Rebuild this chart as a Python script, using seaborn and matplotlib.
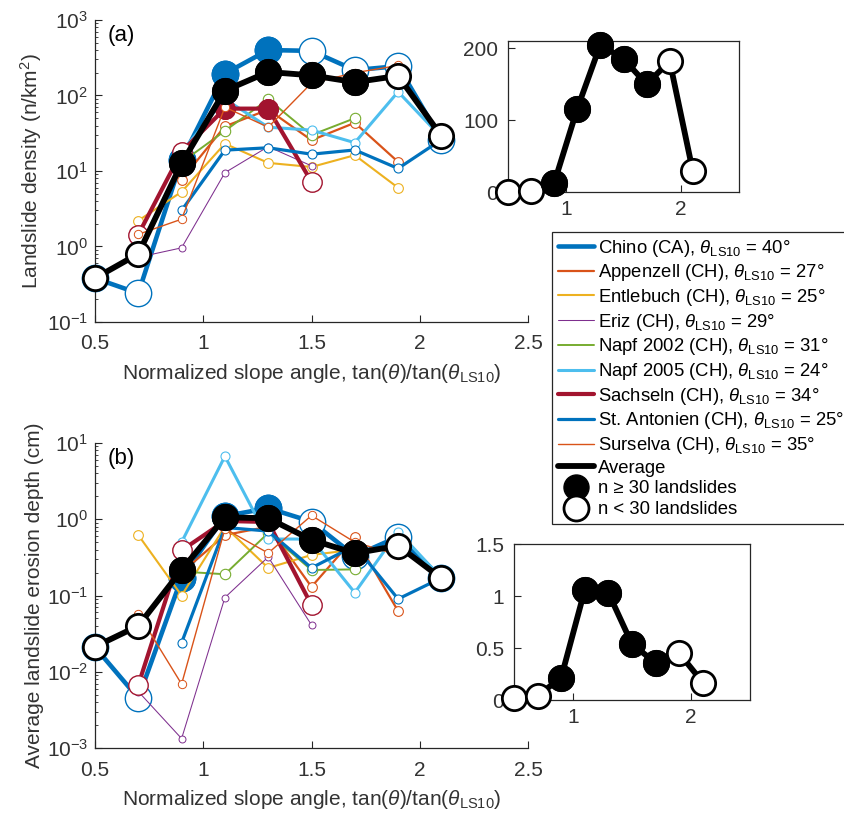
import numpy as np
import pandas as pd
import matplotlib
matplotlib.use("Agg")
import matplotlib.pyplot as plt
from matplotlib.lines import Line2D
from matplotlib.ticker import FormatStrFormatter
import seaborn as sns

nan = np.nan

# normalized slope bins, tan(theta)/tan(theta_LS10)
SLOPE_BINS = [0.5, 0.7, 0.9, 1.1, 1.3, 1.5, 1.7, 1.9, 2.1]

SITES = ["Chino (CA)", "Appenzell (CH)", "Entlebuch (CH)", "Eriz (CH)",
         "Napf 2002 (CH)", "Napf 2005 (CH)", "Sachseln (CH)",
         "St. Antonien (CH)", "Surselva (CH)"]
THETA_LS10 = [40, 27, 25, 29, 31, 24, 34, 25, 35]

# landslide density (n/km2)
CHINO_DENS = [0.38, 0.24, 14, 195, 400, 390, 217, 245, 26]
APPENZELL_DENS = [nan, nan, 7.7, 39, 65, 25.6, 43.5, 13.2, nan]
ENTLEBUCH_DENS = [nan, 2.2, 5.3, 23, 12.8, 11.3, 16.2, 6.0, nan]
ERIZ_DENS = [nan, 0.72, 0.96, 9.5, 21, 11.7, nan, nan, nan]
NAPF02_DENS = [nan, nan, 13, 34, 89, 30, 50, nan, nan]
NAPF05_DENS = [nan, nan, 18, 90, 38, 34.8, 23.7, 112, 28]
SACHSELN_DENS = [nan, 1.44, 18, 67, 67, 7.2, nan, nan, nan]
STANTONIEN_DENS = [nan, nan, 3.0, 18.9, 20.3, 16.7, 19, 10.8, 26]
SURSELVA_DENS = [nan, 1.45, 2.3, 70, 38, 146, 200, 250, nan]
AVERAGE_DENS = [0.38, 0.80, 12.6, 116, 205, 185, 150, 182, 29]

# average landslide erosion depth (cm)
CHINO_DEPTH = [0.021, 0.0045, 0.17, 1.1, 1.40, 0.93, 0.33, 0.59, 0.17]
APPENZELL_DEPTH = [nan, nan, 0.2, 0.62, 0.8, 0.13, 0.58, 0.0625, nan]
ENTLEBUCH_DEPTH = [nan, 0.62, 0.10, 0.8, 0.23, 0.34, 0.40, nan, nan]
ERIZ_DEPTH = [nan, 0.0055, 0.00133, 0.094, 0.32, 0.041, nan, nan, nan]
NAPF02_DEPTH = [nan, nan, 0.206, 0.19, 0.66, 0.216, 0.22, nan, nan]
NAPF05_DEPTH = [nan, nan, 0.5, 6.7, 0.55, 0.55, 0.109, 0.69, 0.17]
SACHSELN_DEPTH = [nan, 0.0067, 0.39, 0.95, 0.92, 0.075, nan, nan, nan]
STANTONIEN_DEPTH = [nan, nan, 0.024, 0.78, 0.70, 0.23, 0.45, 0.09, 0.17]
SURSELVA_DEPTH = [nan, 0.058, 0.0069, 0.75, 0.36, 1.12, 0.5, 0.34, nan]
AVERAGE_DEPTH = [0.0213, 0.040, 0.216, 1.06, 1.03, 0.537, 0.358, 0.45, 0.168]

# bins with n >= 30 landslides (filled markers)
NO_FILL = [False] * 9
CHINO_FILLED = [False, False, True, True, True, False, False, False, False]
SACHSELN_FILLED = [False, False, False, True, True, False, False, False, False]
AVERAGE_FILLED = [False, False, True, True, True, True, True, False, False]

DENS = [CHINO_DENS, APPENZELL_DENS, ENTLEBUCH_DENS, ERIZ_DENS, NAPF02_DENS,
        NAPF05_DENS, SACHSELN_DENS, STANTONIEN_DENS, SURSELVA_DENS]
DEPTH = [CHINO_DEPTH, APPENZELL_DEPTH, ENTLEBUCH_DEPTH, ERIZ_DEPTH, NAPF02_DEPTH,
         NAPF05_DEPTH, SACHSELN_DEPTH, STANTONIEN_DEPTH, SURSELVA_DEPTH]
FILLED = [CHINO_FILLED, NO_FILL, NO_FILL, NO_FILL, NO_FILL, NO_FILL,
          SACHSELN_FILLED, NO_FILL, NO_FILL]

# (color, linewidth, markersize, edgewidth)
STYLES = [("#0072BD", 3.3, 19, 1.0),
          ("#D95319", 1.6, 7, 0.8),
          ("#EDB120", 1.5, 7, 0.8),
          ("#7E2F8E", 0.75, 5, 0.7),
          ("#77AC30", 1.4, 7.5, 0.8),
          ("#4DBEEE", 2.2, 6.5, 0.8),
          ("#A2142F", 3.0, 14, 1.0),
          ("#0072BD", 2.3, 6.5, 0.8),
          ("#D95319", 1.0, 6, 0.7)]
AVG_STYLE = ("black", 4.2, 17.5, 2.0)

TXT = "#333333"

sns.set_style("ticks")
plt.rcParams["font.family"] = ["Liberation Sans", "DejaVu Sans"]
plt.rcParams["mathtext.fontset"] = "custom"
plt.rcParams["mathtext.rm"] = "Liberation Sans"
plt.rcParams["mathtext.it"] = "Liberation Sans:italic"
plt.rcParams["mathtext.bf"] = "Liberation Sans:bold"


def draw_series(ax, values, filled, style, z):
    color, lw, ms, mew = style
    df = pd.DataFrame({"slope": SLOPE_BINS, "val": values, "filled": filled})
    df = df.dropna(subset=["val"])
    sns.lineplot(data=df, x="slope", y="val", ax=ax, color=color, linewidth=lw,
                 marker="o", markersize=ms, markerfacecolor="white",
                 markeredgecolor=color, markeredgewidth=mew, clip_on=False,
                 zorder=z, legend=False, estimator=None, sort=False)
    full = df[df["filled"]]
    if len(full):
        ax.plot(full["slope"], full["val"], "o", ms=ms, color=color, mec=color,
                mew=mew, clip_on=False, zorder=z + 0.05)


def style_axes(ax, box=False, fs=15):
    for s in ["top", "right"]:
        ax.spines[s].set_visible(box)
    for s in ax.spines.values():
        s.set_color("#262626")
        s.set_linewidth(0.9)
    ax.tick_params(which="both", direction="in", colors="#262626",
                   labelcolor=TXT, labelsize=fs, top=False, right=False)
    ax.tick_params(which="major", length=5, width=0.8)
    ax.tick_params(which="minor", length=2.5, width=0.6)
    ax.set_xlabel("")
    ax.set_ylabel("")


fig = plt.figure(figsize=(8.45, 8.15), dpi=100)
W, H = 845, 815

ax_a = fig.add_axes([95 / W, 1 - 322 / H, 433 / W, 302 / H])
ax_b = fig.add_axes([95 / W, 1 - 748 / H, 433 / W, 305 / H])
ins_a = fig.add_axes([508 / W, 1 - 192 / H, 231 / W, 151 / H])
ins_b = fig.add_axes([514 / W, 1 - 700 / H, 236 / W, 156 / H])

xlab = r"Normalized slope angle, tan($\theta$)/tan($\theta_{\rm LS10}$)"

for ax, data, avg, ylim, ylab, tag in [
        (ax_a, DENS, AVERAGE_DENS, (1e-1, 1e3), r"Landslide density (n/km$^{2}$)", "(a)"),
        (ax_b, DEPTH, AVERAGE_DEPTH, (1e-3, 1e1), "Average landslide erosion depth (cm)", "(b)")]:
    ax.set_yscale("log")
    for i, (vals, fl, st) in enumerate(zip(data, FILLED, STYLES)):
        draw_series(ax, vals, fl, st, 2 + i * 0.1)
    draw_series(ax, avg, AVERAGE_FILLED, AVG_STYLE, 3.5)
    style_axes(ax)
    ax.tick_params(axis="x", pad=9)
    ax.tick_params(axis="y", pad=5)
    ax.set_xlim(0.5, 2.5)
    ax.set_ylim(*ylim)
    ax.set_xticks([0.5, 1, 1.5, 2, 2.5])
    ax.xaxis.set_major_formatter(FormatStrFormatter("%g"))
    ax.set_xlabel(xlab, fontsize=15, color=TXT, labelpad=6)
    ax.set_ylabel(ylab, fontsize=15, color=TXT, labelpad=2)
    ax.text(0.03, 0.985, tag, transform=ax.transAxes, fontsize=16,
            va="top", ha="left", color="black")

# linear insets of the average curve
for ax, avg, ylim, yt in [(ins_a, AVERAGE_DENS, (0, 210), [0, 100, 200]),
                          (ins_b, AVERAGE_DEPTH, (0, 1.5), [0, 0.5, 1, 1.5])]:
    draw_series(ax, avg, AVERAGE_FILLED, AVG_STYLE, 3)
    style_axes(ax, box=True)
    ax.tick_params(axis="y", pad=7)
    ax.tick_params(axis="x", pad=6)
    ax.set_xlim(0.5, 2.5)
    ax.set_ylim(*ylim)
    ax.set_xticks([1, 2])
    ax.set_yticks(yt)
    ax.xaxis.set_major_formatter(FormatStrFormatter("%g"))
    ax.yaxis.set_major_formatter(FormatStrFormatter("%g"))

# legend
handles = []
labels = []
for name, th, st in zip(SITES, THETA_LS10, STYLES):
    handles.append(Line2D([], [], color=st[0], linewidth=st[1]))
    labels.append(name + r", $\theta_{\rm LS10}$ = " + f"{th}°")
handles.append(Line2D([], [], color="black", linewidth=AVG_STYLE[1]))
labels.append("Average")
handles.append(Line2D([], [], ls="none", marker="o", ms=18, mfc="black", mec="black"))
labels.append("n ≥ 30 landslides")
handles.append(Line2D([], [], ls="none", marker="o", ms=18, mfc="white", mec="black", mew=2))
labels.append("n < 30 landslides")

leg = fig.legend(handles, labels, loc="upper left",
                 bbox_to_anchor=(552 / W, 1 - 232 / H), borderaxespad=0,
                 frameon=True, fancybox=False, framealpha=1, edgecolor="#262626",
                 fontsize=13.3, handlelength=2.0, handletextpad=0.2,
                 labelspacing=0.2, borderpad=0.3)
leg.get_frame().set_linewidth(0.9)
for t in leg.get_texts():
    t.set_color("black")

fig.savefig("out.png", dpi=100)
